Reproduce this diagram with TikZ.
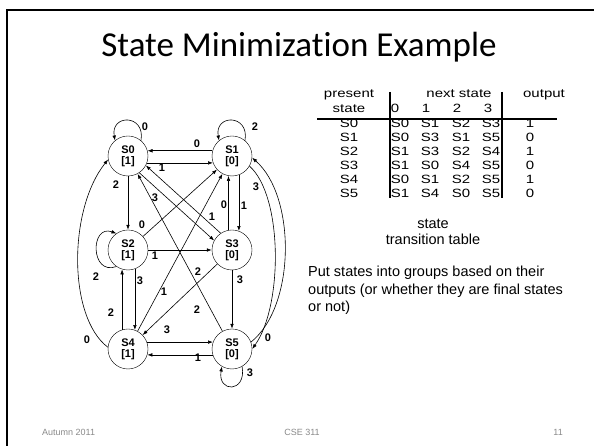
\documentclass[tikz,border=0pt]{standalone}
\usepackage{fontspec}
\setmainfont{Liberation Sans}
\newfontfamily\headfont[Ligatures={NoCommon,NoContextual}]{Carlito}
\newfontfamily\tabfont[FakeStretch=1.25]{Liberation Sans}
\usetikzlibrary{arrows.meta}
\definecolor{footgray}{RGB}{137,137,137}

\begin{document}
\begin{tikzpicture}[x=1pt,y=1pt,
  state/.style={draw,circle,minimum size=40pt,inner sep=0pt,align=center,font=\fontsize{11}{11}\selectfont\bfseries},
  arr/.style={-{Latex[length=5pt,width=3.6pt]},line width=0.6pt},
  lbl/.style={inner sep=0pt,font=\fontsize{11}{11}\selectfont\bfseries},
  cell/.style={anchor=base,inner sep=0pt,font=\tabfont\fontsize{12}{14}\selectfont},
  txt/.style={anchor=base west,inner sep=0pt,font=\fontsize{14.5}{17.5}\selectfont},
  foot/.style={inner sep=0pt,text=footgray,font=\fontsize{9}{11}\selectfont}]
\useasboundingbox (0,0) rectangle (594,446);
\draw [line width=2.5pt] (7,0) -- (7,436) -- (594,436);
\node [anchor=base,inner sep=0pt,font=\headfont\fontsize{35}{40}\selectfont] (title) at (299,389) {State Minimization Example};

% states
\node [state] (s0) at (128,290) {S0\\{[1]}};
\node [state] (s1) at (232,290) {S1\\{[0]}};
\node [state] (s2) at (128,196) {S2\\{[1]}};
\node [state] (s3) at (232,196) {S3\\{[0]}};
\node [state] (s4) at (128,97) {S4\\{[1]}};
\node [state] (s5) at (232,97) {S5\\{[0]}};

% transitions
\draw [arr] (s0.50) .. controls +(80:27) and +(100:27) .. (s0.130);
\draw [arr] (s1.50) .. controls +(80:27) and +(100:27) .. (s1.130);
\draw [arr] (s1.165) -- (s0.15);
\draw [arr] (s0.-20) -- (s1.200);
\draw [arr] (s0) -- (s2);
\draw [arr] (s0.-56) -- (s3.152);
\draw [arr] (s3.124) -- (s0.-28);
\draw [arr] (s2) -- (s1);
\draw [arr] (s3.100) -- (s1.260);
\draw [arr] (s1.-70) -- (s3.70);
\draw [arr] (s1.-30) .. controls (283,250) and (283,140) .. (s5.0);
\draw [arr] (s5.20) .. controls (296,140) and (296,250) .. (s1.-5);
\draw [arr] (s2) -- (s3);
\draw [arr] (s2.235) .. controls +(200:28) and +(160:28) .. (s2.125);
\draw [arr] (s2.-70) -- (s4.70);
\draw [arr] (s4.107) -- (s2.253);
\draw [arr] (s4) -- (s1);
\draw [arr] (s3) -- (s4);
\draw [arr] (s5) -- (s0);
\draw [arr] (s4.20) -- (s5.160);
\draw [arr] (s5.197) -- (s4.-17);
\draw [arr] (s4.175) .. controls +(-40,30) and +(-40,-50) .. (s0.190);
\draw [arr] (s3) -- (s5);
\draw [arr] (s5.-60) .. controls +(-80:27) and +(-100:27) .. (s5.-120);

\node [lbl] (l00) at (145,319) {0};
\node [lbl] (l12) at (255,319) {2};
\node [lbl] (l10) at (197,302) {0};
\node [lbl] (l01) at (162,278) {1};
\node [lbl] (l02) at (116,261) {2};
\node [lbl] (l03) at (155,248) {3};
\node [lbl] (l30) at (212,229) {1};
\node [lbl] (l21) at (142,221) {0};
\node [lbl] (l31) at (224,241) {0};
\node [lbl] (l13) at (244,240) {1};
\node [lbl] (l15) at (256,259) {3};
\node [lbl] (l23) at (155,190) {1};
\node [lbl] (l22) at (96,169) {2};
\node [lbl] (l24) at (140,165) {3};
\node [lbl] (l42) at (111,133) {2};
\node [lbl] (l41) at (164,154) {1};
\node [lbl] (l34) at (198,174) {2};
\node [lbl] (l50) at (197,136) {2};
\node [lbl] (l45) at (167,116) {3};
\node [lbl] (l54) at (198,88) {1};
\node [lbl] (l40) at (87,106) {0};
\node [lbl] (l51) at (268,108) {0};
\node [lbl] (l35) at (240,166) {3};
\node [lbl] (l55) at (250,73) {3};

% transition table
\draw [line width=2pt] (317,326.5) -- (557,326.5);
\draw [line width=2pt] (390,354) -- (390,248);
\draw [line width=2pt] (502,354) -- (502,248);
\node [cell] (hpres) at (349,348) {present};
\node [cell] (hstate) at (349,333) {state};
\node [cell] (hnext) at (459,348) {next state};
\node [cell] (hout) at (544,348) {output};
\foreach \d/\x in {0/395,1/426,2/457,3/488}
  \node [cell] (h\d) at (\x,333) {\d};
\foreach \st/\na/\nb/\nc/\nd/\out [count=\i from 0] in
  {S0/S0/S1/S2/S3/1, S1/S0/S3/S1/S5/0, S2/S1/S3/S2/S4/1,
   S3/S1/S0/S4/S5/0, S4/S0/S1/S2/S5/1, S5/S1/S4/S0/S5/0} {
  \node [cell] (p\i) at (349,318.5-14*\i) {\st};
  \node [cell] (a\i) at (400,318.5-14*\i) {\na};
  \node [cell] (b\i) at (430,318.5-14*\i) {\nb};
  \node [cell] (c\i) at (461,318.5-14*\i) {\nc};
  \node [cell] (d\i) at (491,318.5-14*\i) {\nd};
  \node [cell] (o\i) at (530,318.5-14*\i) {\out};
}
\node [txt,anchor=base] (cap1) at (433,217) {state};
\node [txt,anchor=base] (cap2) at (433,201) {transition table};

\node [txt] (note1) at (308,169.5) {Put states into groups based on their};
\node [txt] (note2) at (308,151.5) {outputs (or whether they are final states};
\node [txt] (note3) at (308,134.5) {or not)};

% footer
\node [foot,anchor=base west] (fdate) at (42,10.5) {Autumn 2011};
\node [foot,anchor=base] (fcourse) at (302,10.5) {CSE 311};
\node [foot,anchor=base east] (fpage) at (563,10.5) {11};
\end{tikzpicture}
\end{document}
